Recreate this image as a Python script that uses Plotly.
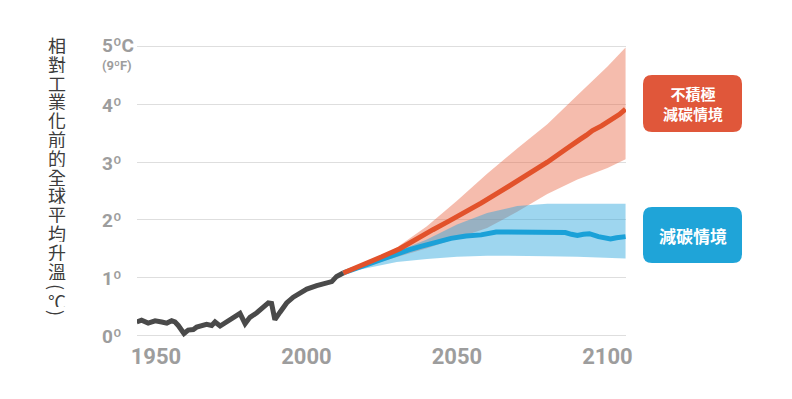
import plotly.graph_objects as go

# ---------------- data ----------------
hist_year = [1943.6, 1945.2, 1947.4, 1949.7, 1951.9, 1953.6, 1955.2, 1956.3, 1957.4, 1959.3,
             1960.7, 1962.4, 1963.5, 1965.2, 1966.8, 1968.5, 1969.6, 1971.3, 1972.9, 1974.6,
             1976.2, 1977.9, 1979.6, 1981.2, 1983.5, 1985.6, 1987.3, 1988.4, 1989.5, 1991.2,
             1993.4, 1995.6, 1997.8, 2000.1, 2003.4, 2006.7, 2008.4, 2010.0, 2012.2]
hist_temp = [0.23, 0.26, 0.21, 0.25, 0.23, 0.21, 0.25, 0.23, 0.17, 0.03,
             0.09, 0.10, 0.14, 0.16, 0.19, 0.17, 0.23, 0.16, 0.21, 0.26,
             0.31, 0.38, 0.20, 0.31, 0.39, 0.49, 0.56, 0.55, 0.27, 0.40,
             0.56, 0.66, 0.72, 0.80, 0.86, 0.90, 0.93, 1.02, 1.08]

high_year = [2012.2, 2016, 2020, 2025, 2031, 2036, 2042, 2047, 2053, 2058, 2064, 2069,
             2075, 2080, 2086, 2089, 2091, 2093, 2095, 2098, 2101, 2104, 2106]
high_temp = [1.08, 1.16, 1.24, 1.36, 1.50, 1.66, 1.83, 1.97, 2.14, 2.29, 2.48, 2.64,
             2.83, 3.00, 3.22, 3.34, 3.40, 3.47, 3.55, 3.63, 3.72, 3.83, 3.92]

low_year = [2012.2, 2016, 2020, 2025, 2030, 2034, 2038, 2042, 2045, 2048, 2053, 2058, 2063,
            2070, 2075, 2080, 2086, 2088, 2090, 2092, 2094, 2097, 2099, 2101, 2103, 2106]
low_temp = [1.08, 1.15, 1.22, 1.33, 1.42, 1.48, 1.54, 1.60, 1.65, 1.68, 1.72, 1.74, 1.79,
            1.79, 1.79, 1.79, 1.78, 1.75, 1.73, 1.75, 1.76, 1.71, 1.70, 1.67, 1.69, 1.71]

band_year = [2012.2, 2020, 2030, 2040, 2050, 2060, 2070, 2080, 2090, 2100, 2106]
high_upper = [1.08, 1.23, 1.52, 1.89, 2.33, 2.80, 3.24, 3.66, 4.16, 4.66, 4.99]
high_lower = [1.08, 1.20, 1.35, 1.51, 1.68, 1.86, 2.14, 2.45, 2.70, 2.90, 3.05]
low_upper = [1.08, 1.22, 1.45, 1.66, 1.92, 2.12, 2.24, 2.28, 2.28, 2.28, 2.28]
low_lower = [1.08, 1.16, 1.27, 1.32, 1.36, 1.38, 1.38, 1.37, 1.36, 1.34, 1.33]

x_ticks = [1950, 2000, 2050, 2100]
x_ticktext = ["1950", "2000", "2050", "2100"]
y_ticks = [0, 1, 2, 3, 4, 5]
y_ticktext = ["0º", "1º", "2º", "3º", "4º", "5ºC"]
y_title = "相對工業化前的全球平均升溫"
label_high = "不積極<br>減碳情境"
label_low = "減碳情境"

# ---------------- style ----------------
OFF = 8                      # page body margin
W, H = 784, 391
L, R, T, B = 129, 166, 36, 58
PW, PH = W - L - R, H - T - B
NUM_FONT = "Roboto, sans-serif"
CJK_FONT = "Noto Sans CJK TC, Noto Sans CJK SC, sans-serif"
GRAY = "#9d9d9d"
RED = "#e2522b"
BLUE = "#1ba1d8"


def px_x(p):
    return (p - OFF - L) / PW


def px_y(p):
    return (H - B - (p - OFF)) / PH


def rounded_box(x0, y0, x1, y1, r):
    rx, ry = r / PW, r / PH
    a, b, c, d = px_x(x0), px_y(y1), px_x(x1), px_y(y0)
    return (f"M {a+rx} {b} L {c-rx} {b} Q {c} {b} {c} {b+ry} L {c} {d-ry} "
            f"Q {c} {d} {c-rx} {d} L {a+rx} {d} Q {a} {d} {a} {d-ry} "
            f"L {a} {b+ry} Q {a} {b} {a+rx} {b} Z")


fig = go.Figure()

fig.add_trace(go.Scatter(x=band_year, y=high_lower, mode="lines", line=dict(width=0),
                         showlegend=False, hoverinfo="skip"))
fig.add_trace(go.Scatter(x=band_year, y=high_upper, mode="lines", line=dict(width=0),
                         fill="tonexty", fillcolor="rgba(232,95,60,0.42)",
                         showlegend=False, hoverinfo="skip"))
fig.add_trace(go.Scatter(x=band_year, y=low_lower, mode="lines", line=dict(width=0),
                         showlegend=False, hoverinfo="skip"))
fig.add_trace(go.Scatter(x=band_year, y=low_upper, mode="lines", line=dict(width=0),
                         fill="tonexty", fillcolor="rgba(40,165,220,0.45)",
                         showlegend=False, hoverinfo="skip"))

fig.add_trace(go.Scatter(x=low_year, y=low_temp, mode="lines",
                         line=dict(color=BLUE, width=5), showlegend=False))
fig.add_trace(go.Scatter(x=high_year, y=high_temp, mode="lines",
                         line=dict(color=RED, width=5), showlegend=False))
fig.add_trace(go.Scatter(x=hist_year, y=hist_temp, mode="lines",
                         line=dict(color="#4a4a4a", width=5), showlegend=False))

x_per_px = 3.01
x0 = 1950 - (156 - OFF - L) / x_per_px
x1 = x0 + PW / x_per_px

fig.update_layout(
    width=W, height=H,
    margin=dict(l=L, r=R, t=T, b=B, pad=0),
    paper_bgcolor="white", plot_bgcolor="white",
    xaxis=dict(range=[x0, x1], showgrid=False, zeroline=False, showline=False,
               tickvals=x_ticks, ticktext=x_ticktext, ticks="",
               tickfont=dict(family=NUM_FONT, size=22, color=GRAY, weight="bold"),
               fixedrange=True),
    yaxis=dict(range=[-0.1, 5.05], showgrid=True, gridcolor="#dedede", gridwidth=1,
               zeroline=False, showline=False, tickvals=y_ticks, showticklabels=False,
               ticks="", fixedrange=True),
    shapes=[
        dict(type="path", xref="paper", yref="paper", path=rounded_box(643, 75, 742, 132, 9),
             fillcolor="#e0573a", line=dict(width=0), layer="above"),
        dict(type="path", xref="paper", yref="paper", path=rounded_box(643, 207, 742, 263, 9),
             fillcolor="#1fa4d8", line=dict(width=0), layer="above"),
    ],
)

ann = []
for v, t in zip(y_ticks, y_ticktext):
    ann.append(dict(x=px_x(100), xref="paper", y=v, yref="y", text=t, showarrow=False,
                    xanchor="left", yanchor="middle", yshift=1 if v == 5 else -1,
                    font=dict(family=NUM_FONT, size=19, color=GRAY, weight="bold")))
ann.append(dict(x=px_x(100), xref="paper", y=px_y(65), yref="paper", text="(9ºF)",
                showarrow=False, xanchor="left", yanchor="middle",
                font=dict(family=NUM_FONT, size=13, color=GRAY, weight="bold")))

for i, ch in enumerate(y_title):
    ann.append(dict(x=px_x(57), xref="paper", y=px_y(45 + i * 18.8), yref="paper", text=ch,
                    showarrow=False, xanchor="center", yanchor="middle", height=18,
                    font=dict(family=CJK_FONT, size=18, color="#3c3c3c")))
for yy, ch, ang in [(287, "(", 90), (300, "℃", 0), (313, ")", 90)]:
    ann.append(dict(x=px_x(57), xref="paper", y=px_y(yy), yref="paper", text=ch,
                    showarrow=False, xanchor="center", yanchor="middle", textangle=ang,
                    height=13 if ang == 0 else None,
                    font=dict(family=CJK_FONT, size=18, color="#3c3c3c")))

ann.append(dict(x=px_x(692.5), xref="paper", y=px_y(103.5), yref="paper", text=label_high,
                showarrow=False, xanchor="center", yanchor="middle",
                font=dict(family=CJK_FONT, size=15, color="white", weight="bold")))
ann.append(dict(x=px_x(692.5), xref="paper", y=px_y(235), yref="paper", text=label_low,
                showarrow=False, xanchor="center", yanchor="middle",
                font=dict(family=CJK_FONT, size=17, color="white", weight="bold")))

fig.update_layout(annotations=ann)
fig.write_html("out.html")
